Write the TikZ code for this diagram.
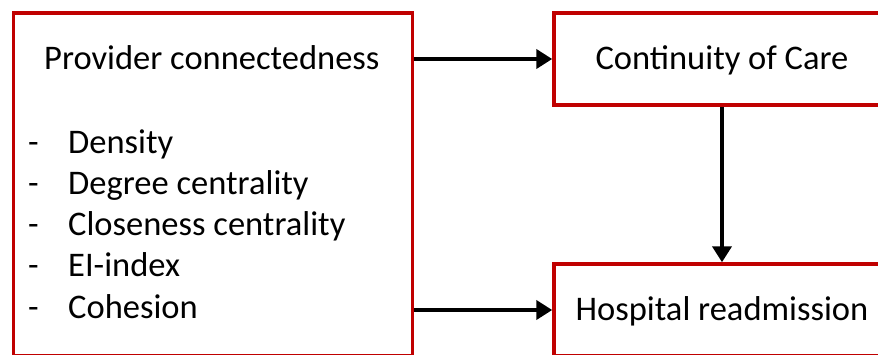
\documentclass[tikz,border=0pt]{standalone}
\usepackage{fontspec}
\setmainfont{Carlito}
\usetikzlibrary{arrows.meta}
\definecolor{boxred}{RGB}{192,0,0}
\newcommand*{\dashX}{28}
\newcommand*{\listX}{68}
\newcommand*{\rowGap}{41.2}

\begin{document}
\begin{tikzpicture}[x=1pt,y=-1pt, font=\fontsize{34.5}{40}\selectfont,
    redbox/.style={draw=boxred, line width=3.5pt, fill=white, inner sep=0pt, text height=20pt, text depth=0pt},
    plain/.style={inner sep=0pt, anchor=base west},
    flow/.style={line width=4.5pt, -{Triangle[length=16pt,width=19pt]}}]
    \useasboundingbox (0,0) rectangle (878,354);
    \clip (0,0) rectangle (878,354);

    % boxes
    \node [redbox, minimum width=399pt, minimum height=342.5pt] (prov) at (213,184.25) {};
    \node [redbox, minimum width=336pt, minimum height=92pt] (care) at (722,59) {Continuity of Care};
    \node [redbox, minimum width=336pt, minimum height=92pt] (readm) at (722,310) {Hospital readmission};

    \node [plain] (title) at (44,69) {Provider connectedness};
    \foreach \metric [count=\i] in {Density, Degree centrality, Closeness centrality, EI-index, Cohesion} {
        \node [plain] (dash\i) at (\dashX, 112+\rowGap*\i) {-};
        \node [plain] (metric\i) at (\listX, 112+\rowGap*\i) {\metric};
    }

    % arrows
    \draw [flow] (prov.east |- care.west) -- (care.west);
    \draw [flow] (prov.east |- readm.west) -- (readm.west);
    \draw [flow] (care.south) -- (readm.north);
\end{tikzpicture}
\end{document}
